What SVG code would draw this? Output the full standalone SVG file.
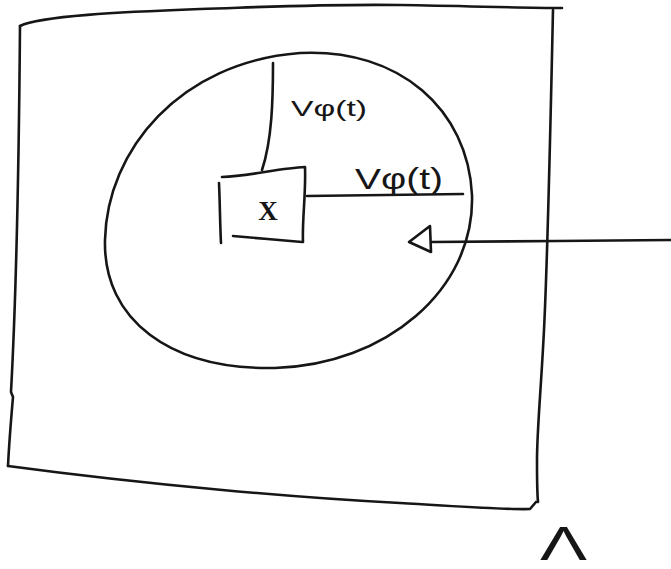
<svg xmlns="http://www.w3.org/2000/svg" width="671" height="569" viewBox="0 0 671 569">
  <style>
    .ink { fill: none; stroke: #161616; stroke-width: 2.6; stroke-linecap: round; stroke-linejoin: round; }
    .lbl { font-family: "Liberation Sans", Arial, sans-serif; fill: #161616; }
    .sym { font-family: "Liberation Serif", "Times New Roman", serif; fill: #161616; }
  </style>
  <rect width="671" height="569" fill="#ffffff"/>
  <g id="frame">
    <path class="ink" d="M 20,26 C 40,16 120,12 200,9 C 290,6 330,4 400,5 C 470,6 520,8 562,8"/>
    <path class="ink" d="M 553,10 C 551,100 548,250 544,330 C 541,390 537,430 537,460 C 537,480 537,492 538,502"/>
    <path class="ink" d="M 20,26 C 19,150 16,300 11,392 L 13,397 C 11,420 9,445 8,466"/>
    <path class="ink" d="M 8,466 C 150,485 300,498 400,503 C 470,507 510,510 530,509 L 536,502"/>
  </g>
  <g id="region">
    <path class="ink" d="M 300,53 C 400,48 468,110 472,195 C 475,290 385,365 275,368 C 170,370 103,320 105,240 C 107,150 180,62 300,53 Z"/>
  </g>
  <g id="box">
    <path class="ink" d="M 222,177 C 250,176 280,168 305,167 C 306,195 302,220 303,242"/>
    <path class="ink" d="M 233,236 C 255,238 280,240 302,242"/>
    <path class="ink" d="M 219,183 C 220,205 220,225 221,243"/>
    <text class="sym" x="268" y="220" text-anchor="middle" font-size="27" font-weight="bold">X</text>
  </g>
  <g id="connectors">
    <path class="ink" d="M 273,63 C 273,100 272,140 262,170"/>
    <path class="ink" d="M 307,196 L 463,194"/>
    <path class="ink" d="M 671,240 C 600,240 500,242 432,242"/>
    <path class="ink" d="M 430,226 L 409,242 L 431,252 Z"/>
  </g>
  <g id="labels">
    <text class="lbl" x="291" y="116" font-size="22" textLength="76" lengthAdjust="spacingAndGlyphs">Vφ(t)</text>
    <text class="lbl" x="355" y="189" font-size="30" textLength="88" lengthAdjust="spacingAndGlyphs">Vφ(t)</text>
    <text class="lbl" x="540" y="560" font-size="48" textLength="47" lengthAdjust="spacingAndGlyphs">Λ</text>
  </g>
</svg>
